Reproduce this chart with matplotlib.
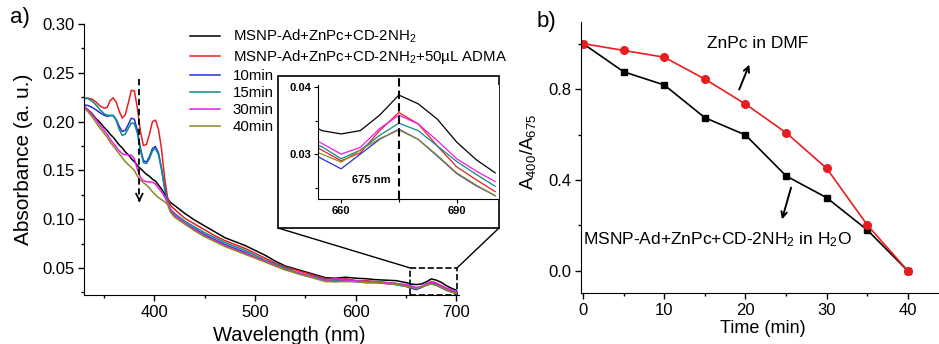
import matplotlib
matplotlib.use('Agg')

matplotlib.rcParams['font.family'] = ['Liberation Sans', 'DejaVu Sans']
matplotlib.rcParams['mathtext.fontset'] = 'custom'
matplotlib.rcParams['mathtext.rm'] = 'Liberation Sans'
matplotlib.rcParams['mathtext.it'] = 'Liberation Sans:italic'
matplotlib.rcParams['mathtext.default'] = 'regular'

import matplotlib.pyplot as plt
import matplotlib.patches as patches
from matplotlib.ticker import MultipleLocator

# ---- panel a: absorbance spectra ----
wavelength = [330, 334, 338, 342, 346, 350, 353, 356, 359, 362, 365, 368, 371, 374, 377,
              380, 383, 386, 389, 392, 395, 398, 401, 404, 407, 410, 413, 416, 420,
              430, 440, 450, 460, 470, 480, 490, 500, 510, 520, 530, 540, 550, 560, 570,
              580, 590, 600, 610, 620, 630, 640, 650,
              655, 660, 665, 670, 675, 680, 685, 690, 695, 700]

abs_black = [.2155, .212, .208, .203, .199, .194, .191, .187, .184, .180, .176, .173, .169, .166, .162,
             .159, .155, .152, .149, .146, .144, .141, .139, .135, .131, .126, .121, .117, .114,
             .106, .099, .093, .087, .081, .077, .073, .068, .063, .057, .052, .049, .046, .043, .040,
             .0395, .0405, .0395, .039, .038, .0375, .037, .035,
             .0335, .0330, .0335, .0358, .0388, .0375, .0352, .0318, .0292, .0272]
abs_red = [.224, .224, .223, .220, .216, .2137, .2145, .2215, .2243, .220, .2105, .2035, .207, .219, .232,
           .2315, .214, .190, .1755, .1765, .187, .200, .2015, .192, .172, .143, .122, .114, .110,
           .101, .095, .089, .083, .078, .074, .070, .065, .060, .055, .051, .048, .045, .042, .039,
           .038, .039, .037, .037, .036, .035, .034, .032,
           .0306, .0290, .0302, .0335, .0362, .0345, .0312, .0281, .0262, .0244]
abs_10min = [.217, .2165, .2145, .212, .209, .2065, .2055, .206, .206, .202, .195, .190, .191, .197, .2035,
             .2025, .191, .173, .160, .1585, .164, .1725, .1745, .168, .152, .132, .117, .108, .104,
             .096, .090, .084, .079, .074, .070, .066, .061, .057, .052, .049, .045, .042, .040, .037,
             .036, .037, .036, .035, .035, .034, .033, .031,
             .0293, .0278, .0300, .0322, .0337, .0322, .0297, .0271, .0253, .0238]
abs_15min = [.224, .2235, .221, .217, .212, .208, .2065, .2065, .2065, .201, .192, .186, .187, .193, .1985,
             .198, .188, .171, .158, .157, .162, .170, .1725, .166, .151, .133, .119, .110, .106,
             .098, .092, .086, .081, .076, .072, .068, .063, .058, .054, .050, .046, .043, .041, .038,
             .037, .038, .037, .036, .036, .035, .034, .032,
             .0311, .0293, .0306, .0328, .0346, .0335, .0312, .0289, .0270, .0252]
abs_30min = [.2155, .212, .207, .202, .196, .191, .187, .182, .178, .174, .170, .167, .166, .166, .1655,
             .162, .151, .143, .1395, .1385, .138, .138, .136, .132, .128, .123, .117, .110, .104,
             .096, .089, .083, .078, .073, .069, .065, .061, .057, .053, .048, .046, .043, .040, .037,
             .039, .037, .037, .036, .036, .035, .034, .033,
             .0316, .0300, .0310, .0338, .0358, .0345, .0320, .0293, .0275, .0259]
abs_40min = [.214, .210, .205, .199, .193, .188, .184, .179, .175, .171, .167, .163, .159, .156, .153,
             .150, .144, .140, .1375, .135, .132, .128, .125, .122, .120, .118, .115, .107, .102,
             .095, .088, .082, .077, .072, .068, .064, .060, .056, .052, .048, .045, .042, .039, .036,
             .036, .036, .036, .035, .035, .034, .033, .031,
             .0300, .0288, .0306, .0323, .0336, .0322, .0298, .0272, .0254, .0238]

series = [
    (abs_black, 'black', 'MSNP-Ad+ZnPc+CD-2NH$_2$'),
    (abs_red, '#e81e1e', 'MSNP-Ad+ZnPc+CD-2NH$_2$+50\u00b5L ADMA'),
    (abs_10min, '#2430d8', '10min'),
    (abs_15min, '#10898b', '15min'),
    (abs_30min, '#f01ae6', '30min'),
    (abs_40min, '#8c8a22', '40min'),
]

# ---- panel b: A400/A675 vs time ----
time_min = [0, 5, 10, 15, 20, 25, 30, 35, 40]
ratio_dmf = [1.0, 0.97, 0.94, 0.844, 0.734, 0.608, 0.451, 0.202, 0.0]
ratio_water = [1.0, 0.876, 0.818, 0.674, 0.598, 0.418, 0.322, 0.18, 0.0]

W, H = 939, 344
fig = plt.figure(figsize=(W / 100, H / 100), dpi=100)


def fig_rect(x0, y0, x1, y1):
    # pixel box (top-left origin) -> figure fraction rect
    return [x0 / W, 1 - y1 / H, (x1 - x0) / W, (y1 - y0) / H]


ax = fig.add_axes(fig_rect(84, 24, 459, 295))
for s in ['top', 'right']:
    ax.spines[s].set_visible(False)
for y, c, lab in series:
    ax.plot(wavelength, y, color=c, lw=1.1, label=lab)
ax.set_xlim(330, 702.5)
ax.set_ylim(0.0223, 0.30)
ax.xaxis.set_major_locator(MultipleLocator(100))
ax.xaxis.set_minor_locator(MultipleLocator(50))
ax.yaxis.set_major_locator(MultipleLocator(0.05))
ax.yaxis.set_minor_locator(MultipleLocator(0.025))
ax.yaxis.set_major_formatter(matplotlib.ticker.FormatStrFormatter('%.2f'))
ax.tick_params(which='major', length=4, width=1, labelsize=12, pad=3)
ax.tick_params(which='minor', length=2.2, width=1)
ax.set_ylabel('Absorbance (a. u.)', fontsize=15)
ax.set_xlabel('Wavelength (nm)', fontsize=14.5)
ax.yaxis.set_label_coords(-0.135, 0.5)
ax.xaxis.set_label_coords(0.547, -0.115)

ax.legend(loc='upper left', bbox_to_anchor=(190 / W, 1 - 28 / H), bbox_transform=fig.transFigure,
          frameon=False, fontsize=10.8, handlelength=2.0, handletextpad=0.85,
          labelspacing=0.2, borderpad=0, borderaxespad=0)

# dashed arrow
ax.plot([385, 385], [0.2436, 0.12], color='black', ls='--', lw=1.3, dashes=(3.5, 2))
ax.annotate('', xy=(385, 0.1145), xytext=(385, 0.122),
            arrowprops=dict(arrowstyle='->', color='black', lw=1.3, mutation_scale=12))

# dashed zoom box
ax.add_patch(patches.Rectangle((654, 0.0223), 46.5, 0.0277, fill=False, ls='--',
                               lw=1.2, edgecolor='black', clip_on=False))

# inset frame
frame = patches.Rectangle((278 / W, 1 - 228 / H), 221 / W, 152 / H, transform=fig.transFigure,
                          facecolor='white', edgecolor='black', lw=1.2, zorder=3)
fig.patches.append(frame)
for fx, dx in [(278, 654), (499, 700.5)]:
    fig.add_artist(patches.ConnectionPatch(xyA=(dx, 0.05), coordsA=ax.transData,
                                           xyB=(fx / W, 1 - 228 / H), coordsB=fig.transFigure,
                                           color='black', lw=1.0))

ins = fig.add_axes(fig_rect(318, 85, 499, 199))
ins.set_zorder(4)
for s in ['top', 'right']:
    ins.spines[s].set_visible(False)
for y, c, lab in series:
    ins.plot(wavelength, y, color=c, lw=0.9)
ins.set_xlim(654, 701)
ins.set_ylim(0.0233, 0.0403)
ins.xaxis.set_major_locator(MultipleLocator(30))
ins.xaxis.set_minor_locator(MultipleLocator(15))
ins.yaxis.set_major_locator(MultipleLocator(0.01))
ins.yaxis.set_minor_locator(MultipleLocator(0.005))
ins.tick_params(which='major', length=3, width=0.8, labelsize=8, pad=2)
ins.tick_params(which='minor', length=2, width=0.8)
for t in ins.get_xticklabels() + ins.get_yticklabels():
    t.set_fontweight('bold')
ins.axvline(675, ymin=0, ymax=1.07, color='black', ls='--', lw=1.5, dashes=(4, 2), clip_on=False)
ins.text(667.8, 0.0261, '675 nm', ha='center', va='center', fontsize=8, fontweight='bold')

fig.text(10 / W, 1 - 18 / H, 'a)', fontsize=16, va='center', ha='left')

# ---- panel b ----
bx = fig.add_axes(fig_rect(581, 22, 938, 293))
for s in ['top', 'right']:
    bx.spines[s].set_visible(False)
bx.plot(time_min, ratio_water, color='black', marker='s', ms=5, lw=1.2)
bx.plot(time_min, ratio_dmf, color='#e81e1e', marker='o', ms=5.5, lw=1.2)
bx.set_xlim(-0.25, 43.7)
bx.set_ylim(-0.097, 1.095)
bx.xaxis.set_major_locator(MultipleLocator(10))
bx.xaxis.set_minor_locator(MultipleLocator(5))
bx.yaxis.set_major_locator(MultipleLocator(0.4))
bx.yaxis.set_minor_locator(MultipleLocator(0.2))
bx.tick_params(which='major', length=4, width=1, labelsize=12, pad=3)
bx.tick_params(which='minor', length=2.2, width=1)
bx.set_xlabel('Time (min)', fontsize=13)
bx.set_ylabel('A$_{400}$/A$_{675}$', fontsize=13.5)
bx.xaxis.set_label_coords(0.51, -0.10)
bx.yaxis.set_label_coords(-0.12, 0.52)

bx.text(21.5, 1.0, 'ZnPc in DMF', ha='center', va='center', fontsize=12.5)
bx.annotate('', xy=(20.6, 0.919), xytext=(19.1, 0.787),
            arrowprops=dict(arrowstyle='->', color='black', lw=1.4))
bx.text(0.0, 0.136, 'MSNP-Ad+ZnPc+CD-2NH$_2$ in H$_2$O', ha='left', va='center', fontsize=12.5)
bx.annotate('', xy=(24.4, 0.215), xytext=(25.7, 0.378),
            arrowprops=dict(arrowstyle='->', color='black', lw=1.4))

fig.text(537 / W, 1 - 22 / H, 'b)', fontsize=16, va='center', ha='left')

fig.savefig('out.png', dpi=100)
